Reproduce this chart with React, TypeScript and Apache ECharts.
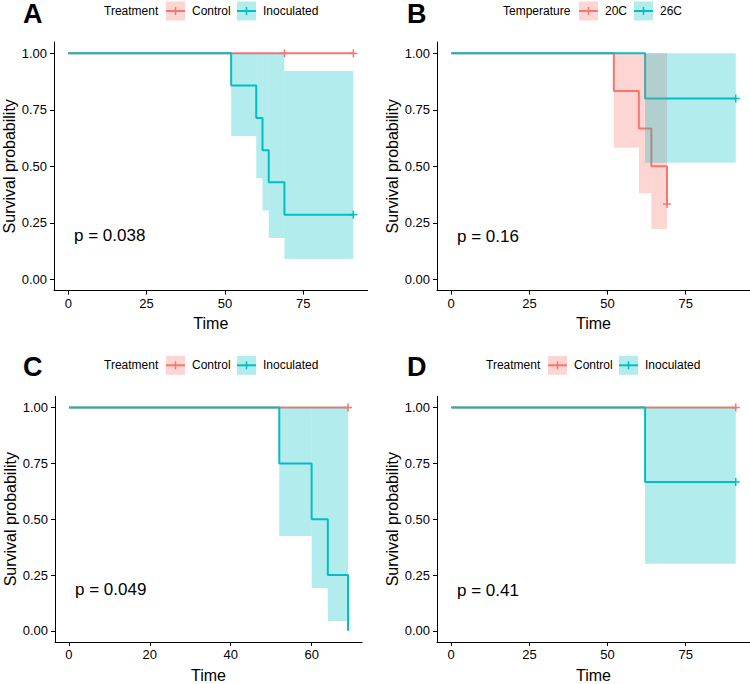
import React, { useEffect, useRef } from "react";
import * as echarts from "echarts";

const FONT = "'Liberation Sans', Arial, sans-serif";
const RED = "#F8766D";
const TEAL = "#00BFC4";
const RED_FILL = "rgba(248,118,109,0.3)";
const TEAL_FILL = "rgba(0,191,196,0.3)";

// ---------- Panel A (Treatment) ----------
const aCtrlTime = [0, 91];
const aCtrlSurv = [1, 1];
const aCtrlLower = [1, 1];
const aCtrlUpper = [1, 1];
const aCtrlCensor = [69, 91];
const aInocTime = [0, 52, 60, 62, 64, 69, 91];
const aInocSurv = [1, 0.857, 0.714, 0.571, 0.429, 0.286, 0.286];
const aInocLower = [1, 0.634, 0.447, 0.304, 0.183, 0.09, 0.09];
const aInocUpper = [1, 1, 1, 1, 1, 0.922, 0.922];
const aInocCensor = [91];
const aPval = "p = 0.038";

// ---------- Panel B (Temperature) ----------
const b20Time = [0, 52, 60, 64, 69];
const b20Surv = [1, 0.833, 0.667, 0.5, 0.333];
const b20Lower = [1, 0.582, 0.381, 0.223, 0.333];
const b20Upper = [1, 1, 1, 1, 0.333];
const b20Censor = [69];
const b26Time = [0, 62, 91];
const b26Surv = [1, 0.8, 0.8];
const b26Lower = [1, 0.516, 0.516];
const b26Upper = [1, 1, 1];
const b26Censor = [91];
const bPval = "p = 0.16";

// ---------- Panel C (Treatment) ----------
const cCtrlTime = [0, 69];
const cCtrlSurv = [1, 1];
const cCtrlLower = [1, 1];
const cCtrlUpper = [1, 1];
const cCtrlCensor = [69];
const cInocTime = [0, 52, 60, 64, 69];
const cInocSurv = [1, 0.75, 0.5, 0.25, 0];
const cInocLower = [1, 0.425, 0.192, 0.044, 0];
const cInocUpper = [1, 1, 1, 1, 0];
const cInocCensor: number[] = [];
const cPval = "p = 0.049";

// ---------- Panel D (Treatment) ----------
const dCtrlTime = [0, 91];
const dCtrlSurv = [1, 1];
const dCtrlLower = [1, 1];
const dCtrlUpper = [1, 1];
const dCtrlCensor = [91];
const dInocTime = [0, 62, 91];
const dInocSurv = [1, 0.667, 0.667];
const dInocLower = [1, 0.3, 0.3];
const dInocUpper = [1, 1, 1];
const dInocCensor = [91];
const dPval = "p = 0.41";

const xTicks91 = [0, 25, 50, 75];
const xTicks69 = [0, 20, 40, 60];
const yTicks = [0, 0.25, 0.5, 0.75, 1];

type Group = {
  time: number[];
  surv: number[];
  lower: number[];
  upper: number[];
  censor: number[];
  color: string;
  fill: string;
};

const panels = [
  {
    grid: { left: 54, top: 42, width: 313.6, height: 248.6 },
    xmin: -4.55, xmax: 95.55, xticks: xTicks91,
    groups: [
      { time: aCtrlTime, surv: aCtrlSurv, lower: aCtrlLower, upper: aCtrlUpper, censor: aCtrlCensor, color: RED, fill: RED_FILL },
      { time: aInocTime, surv: aInocSurv, lower: aInocLower, upper: aInocUpper, censor: aInocCensor, color: TEAL, fill: TEAL_FILL },
    ] as Group[],
  },
  {
    grid: { left: 437, top: 42, width: 315, height: 248.6 },
    xmin: -4.55, xmax: 95.55, xticks: xTicks91,
    groups: [
      { time: b20Time, surv: b20Surv, lower: b20Lower, upper: b20Upper, censor: b20Censor, color: RED, fill: RED_FILL },
      { time: b26Time, surv: b26Surv, lower: b26Lower, upper: b26Upper, censor: b26Censor, color: TEAL, fill: TEAL_FILL },
    ] as Group[],
  },
  {
    grid: { left: 55, top: 396.4, width: 307, height: 248.6 },
    xmin: -3.45, xmax: 72.45, xticks: xTicks69,
    groups: [
      { time: cCtrlTime, surv: cCtrlSurv, lower: cCtrlLower, upper: cCtrlUpper, censor: cCtrlCensor, color: RED, fill: RED_FILL },
      { time: cInocTime, surv: cInocSurv, lower: cInocLower, upper: cInocUpper, censor: cInocCensor, color: TEAL, fill: TEAL_FILL },
    ] as Group[],
  },
  {
    grid: { left: 437, top: 396.4, width: 315, height: 248.6 },
    xmin: -4.55, xmax: 95.55, xticks: xTicks91,
    groups: [
      { time: dCtrlTime, surv: dCtrlSurv, lower: dCtrlLower, upper: dCtrlUpper, censor: dCtrlCensor, color: RED, fill: RED_FILL },
      { time: dInocTime, surv: dInocSurv, lower: dInocLower, upper: dInocUpper, censor: dInocCensor, color: TEAL, fill: TEAL_FILL },
    ] as Group[],
  },
];

function survAt(g: Group, t: number) {
  let s = g.surv[0];
  for (let i = 0; i < g.time.length; i++) if (g.time[i] <= t) s = g.surv[i];
  return s;
}

function text(t: string, x: number, y: number, size: number, extra: any = {}) {
  return {
    type: "text",
    x,
    y,
    silent: true,
    style: {
      text: t,
      fill: "#000",
      fontSize: size,
      fontFamily: FONT,
      textAlign: "left",
      textVerticalAlign: "middle",
      ...extra,
    },
  };
}

function legendKey(x: number, yc: number, color: string, fill: string) {
  return [
    { type: "rect", silent: true, shape: { x, y: yc - 9.5, width: 19, height: 19 }, style: { fill } },
    { type: "line", silent: true, shape: { x1: x, y1: yc, x2: x + 19, y2: yc }, style: { stroke: color, lineWidth: 2 } },
    { type: "line", silent: true, shape: { x1: x + 9.5, y1: yc - 4, x2: x + 9.5, y2: yc + 4 }, style: { stroke: color, lineWidth: 1.5 } },
  ];
}

function legend(title: string, labels: string[], xs: number[], yc: number) {
  return [
    text(title, xs[0], yc, 12),
    ...legendKey(xs[1], yc, RED, RED_FILL),
    text(labels[0], xs[2], yc, 12),
    ...legendKey(xs[3], yc, TEAL, TEAL_FILL),
    text(labels[1], xs[4], yc, 12),
  ];
}

export default function App() {
  const ref = useRef<HTMLDivElement>(null);
  useEffect(() => {
    if (!ref.current) return;
    const chart = echarts.init(ref.current, undefined, { renderer: "svg" });

    const grids: any[] = [];
    const xAxes: any[] = [];
    const yAxes: any[] = [];
    const series: any[] = [];

    panels.forEach((p, i) => {
      grids.push({ ...p.grid, containLabel: false });
      xAxes.push({
        type: "value",
        gridIndex: i,
        min: p.xmin,
        max: p.xmax,
        splitLine: { show: false },
        axisLine: { show: true, onZero: false, lineStyle: { color: "#000", width: 1 } },
        axisTick: { show: true, length: 4, customValues: p.xticks, lineStyle: { color: "#000", width: 1 } },
        axisLabel: { customValues: p.xticks, margin: 6, color: "#000", fontSize: 13, fontFamily: FONT },
        name: "Time",
        nameLocation: "middle",
        nameGap: 25,
        nameTextStyle: { color: "#000", fontSize: 16, fontFamily: FONT },
      });
      yAxes.push({
        type: "value",
        gridIndex: i,
        min: -0.05,
        max: 1.05,
        splitLine: { show: false },
        axisLine: { show: true, onZero: false, lineStyle: { color: "#000", width: 1 } },
        axisTick: { show: true, length: 4, customValues: yTicks, lineStyle: { color: "#000", width: 1 } },
        axisLabel: {
          customValues: yTicks,
          margin: 7,
          color: "#000",
          fontSize: 13,
          fontFamily: FONT,
          formatter: (v: number) => v.toFixed(2),
        },
        name: "Survival probability",
        nameLocation: "middle",
        nameRotate: 90,
        nameGap: 37,
        nameTextStyle: { color: "#000", fontSize: 16, fontFamily: FONT },
      });

      // survival step lines
      p.groups.forEach((g) => {
        series.push({
          type: "line",
          xAxisIndex: i,
          yAxisIndex: i,
          step: "end",
          showSymbol: false,
          symbol: "none",
          silent: true,
          z: 2,
          data: g.time.map((t, j) => [t, g.surv[j]]),
          lineStyle: { color: g.color, width: 2 },
          itemStyle: { color: g.color },
        });
      });
      // confidence ribbons
      p.groups.forEach((g) => {
        const rib: number[][] = [];
        for (let j = 0; j < g.time.length - 1; j++) {
          if (g.upper[j] > g.lower[j]) rib.push([g.time[j], g.time[j + 1], g.lower[j], g.upper[j]]);
        }
        series.push({
          type: "custom",
          xAxisIndex: i,
          yAxisIndex: i,
          silent: true,
          z: 3,
          encode: { x: [0, 1], y: [2, 3] },
          data: rib,
          renderItem: (params: any, api: any) => {
            const p0 = api.coord([api.value(0), api.value(3)]);
            const p1 = api.coord([api.value(1), api.value(2)]);
            return {
              type: "rect",
              shape: { x: p0[0], y: p0[1], width: p1[0] - p0[0], height: p1[1] - p0[1] },
              style: { fill: g.fill },
            };
          },
        });
      });
      // censor marks
      p.groups.forEach((g) => {
        series.push({
          type: "custom",
          xAxisIndex: i,
          yAxisIndex: i,
          silent: true,
          clip: false,
          z: 4,
          encode: { x: 0, y: 1 },
          data: g.censor.map((t) => [t, survAt(g, t)]),
          renderItem: (params: any, api: any) => {
            const c = api.coord([api.value(0), api.value(1)]);
            const h = 4;
            return {
              type: "group",
              children: [
                { type: "line", shape: { x1: c[0] - h, y1: c[1], x2: c[0] + h, y2: c[1] }, style: { stroke: g.color, lineWidth: 1.5 } },
                { type: "line", shape: { x1: c[0], y1: c[1] - h, x2: c[0], y2: c[1] + h }, style: { stroke: g.color, lineWidth: 1.5 } },
              ],
            };
          },
        });
      });
    });

    const graphics: any[] = [
      text("A", 23, 13.5, 27, { fontWeight: "bold" }),
      text("B", 407, 14, 27, { fontWeight: "bold" }),
      text("C", 23, 367, 27, { fontWeight: "bold" }),
      text("D", 407, 367, 27, { fontWeight: "bold" }),
      text(aPval, 74, 235.5, 17),
      text(bPval, 457, 236, 17),
      text(cPval, 75, 589.5, 17),
      text(dPval, 457, 590, 17),
      ...legend("Treatment", ["Control", "Inoculated"], [104, 166, 192, 237, 263], 11),
      ...legend("Temperature", ["20C", "26C"], [503, 579, 605, 634, 660], 11),
      ...legend("Treatment", ["Control", "Inoculated"], [104, 166, 192, 237, 263], 365.3),
      ...legend("Treatment", ["Control", "Inoculated"], [486, 548, 574, 619, 645], 365.3),
    ];

    chart.setOption({
      animation: false,
      backgroundColor: "#fff",
      grid: grids,
      xAxis: xAxes,
      yAxis: yAxes,
      series,
      graphic: graphics,
    });
    return () => chart.dispose();
  }, []);

  return (
    <div
      ref={ref}
      style={{ position: "absolute", left: 0, top: 0, width: 750, height: 684, background: "#fff" }}
    />
  );
}
